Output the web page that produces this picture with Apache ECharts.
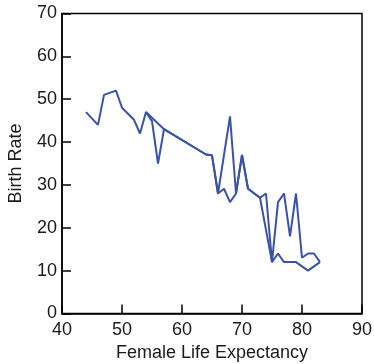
<!DOCTYPE html>
<html>
<head>
<meta charset="utf-8">
<script src="https://cdn.jsdelivr.net/npm/echarts@6/dist/echarts.min.js"></script>
<style>
  html, body { margin: 0; padding: 0; background: #fff; }
  #chart { width: 374px; height: 364px; }
</style>
</head>
<body>
<div id="chart"></div>
<script>
// line is drawn in data order: out along the upper points, back along the lower ones
var lifeExpOut = [44, 46, 47, 49, 50, 52, 53, 54, 57, 64, 65, 66, 68, 69, 70, 71, 73, 74, 75, 76, 77, 78, 79, 80, 81, 82, 83];
var birthRateOut = [47, 44, 51, 52, 48, 45.2, 42, 47, 43, 37.1, 36.9, 28, 46, 28, 37, 29.1, 27, 28, 12, 26, 28, 18, 28, 13, 14, 14, 12];

var lifeExpBack = [83, 81, 79, 77, 76, 75, 73, 71, 70, 69, 68, 67, 66, 65, 64, 57, 56, 55, 54];
var birthRateBack = [12, 10, 12, 12, 14, 12, 27, 29.1, 37, 28, 26, 29.1, 28, 36.9, 37.1, 43, 35, 44.9, 47];

var xTicks = [40, 50, 60, 70, 80, 90];
var yTicks = [0, 10, 20, 30, 40, 50, 60, 70];

function pairs(xs, ys) {
  return xs.map(function(x, i) { return [x, ys[i]]; });
}

var myChart = echarts.init(document.getElementById('chart'));

var txt = '#1a1a1a';
var font = 'Liberation Sans, Arial, sans-serif';
var lineStyle = { color: '#3a52a8', width: 2 };

var option = {
  animation: false,
  grid: {
    left: 62, right: 12, top: 13.5, bottom: 50.5,
    containLabel: false, outerBoundsMode: 'none',
    show: true, borderColor: '#000', borderWidth: 1.5,
    backgroundColor: 'transparent'
  },
  xAxis: {
    type: 'value',
    min: xTicks[0], max: xTicks[xTicks.length - 1], interval: 10,
    name: 'Female Life Expectancy',
    nameLocation: 'middle', nameGap: 30,
    nameTextStyle: { color: txt, fontSize: 18, fontFamily: font },
    axisLine: { show: true, lineStyle: { color: '#000', width: 1.5 } },
    axisTick: { show: true, inside: true, length: 9, lineStyle: { color: '#000', width: 1.5 } },
    axisLabel: { color: txt, fontSize: 18, fontFamily: font, margin: 8 },
    splitLine: { show: false }
  },
  yAxis: {
    type: 'value',
    min: yTicks[0], max: yTicks[yTicks.length - 1], interval: 10,
    name: 'Birth Rate',
    nameLocation: 'middle', nameGap: 37,
    nameTextStyle: { color: txt, fontSize: 18, fontFamily: font },
    axisLine: { show: true, lineStyle: { color: '#000', width: 1.5 } },
    axisTick: { show: true, inside: true, length: 9, lineStyle: { color: '#000', width: 1.5 } },
    axisLabel: { color: txt, fontSize: 18, fontFamily: font, margin: 5 },
    splitLine: { show: false }
  },
  series: [
    {
      type: 'line', data: pairs(lifeExpOut, birthRateOut),
      showSymbol: false, symbol: 'none', lineStyle: lineStyle
    },
    {
      type: 'line', data: pairs(lifeExpBack, birthRateBack),
      showSymbol: false, symbol: 'none', lineStyle: lineStyle
    }
  ]
};

myChart.setOption(option);

window.onresize = function() {
  myChart.resize();
};
</script>
</body>
</html>
